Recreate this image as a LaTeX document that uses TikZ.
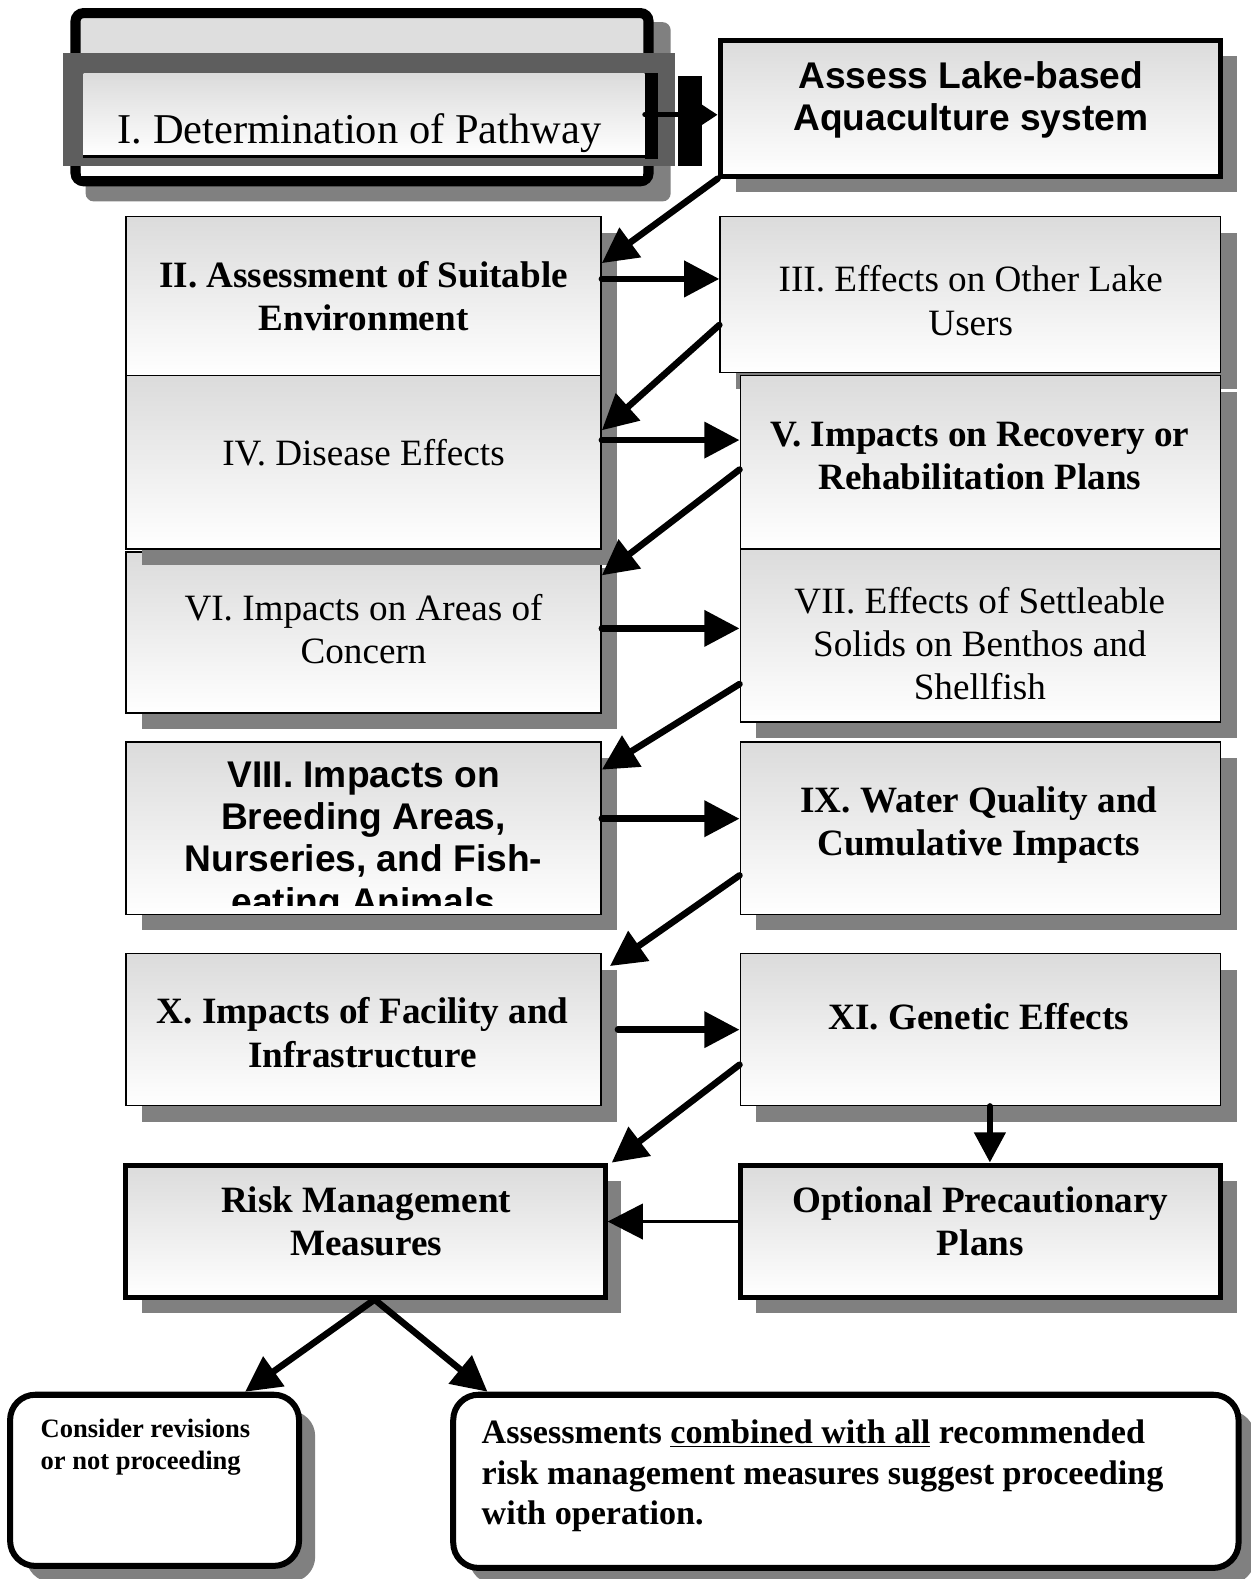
\documentclass[tikz,border=0pt]{standalone}
\usepackage{fontspec}
\setmainfont{Liberation Serif}
\setsansfont{Liberation Sans}
\usetikzlibrary{arrows.meta,shadows}

\begin{document}
\begin{tikzpicture}[x=0.02cm, y=-0.02cm, line cap=round,
  shade box/.style={draw=black, line width=0.8pt, top color=black!14, bottom color=white,
    drop shadow={shadow xshift=0.32cm, shadow yshift=-0.32cm, fill=black!50, opacity=1}},
  heavy box/.style={shade box, line width=2.8pt},
  end box/.style={draw=black, line width=3.4pt, rounded corners=0.5cm, fill=white,
    drop shadow={shadow xshift=0.32cm, shadow yshift=-0.32cm, fill=black!50, opacity=1}},
  left col/.style={minimum width=9.44cm},
  right col/.style={minimum width=9.54cm},
  txt/.style={inner sep=0pt, align=center, font=\fontsize{21}{24.5}\selectfont},
  txtb/.style={txt, font=\fontsize{21}{24.5}\selectfont\bfseries},
  txts/.style={txt, font=\fontsize{21}{24}\selectfont\sffamily\bfseries},
  flow/.style={->, line width=0.13cm},
  >={Triangle[length=0.7cm, width=0.7cm]}]
\useasboundingbox (0,0) rectangle (1242,1568);

% part I, framed twice
\fill[black!50, rounded corners=0.16cm] (85,22) rectangle (666,200);
\draw[line width=0.2cm, rounded corners=0.16cm, fill=black!13] (75,13) rectangle (644,180);
\fill[white] (80,158) rectangle (639,175);
\fill[black!63] (63,53) rectangle (670,165);
\node[top color=black!14, bottom color=white, minimum width=11.14cm, minimum height=1.64cm] (det) at (361.5,114) {};
\fill (det.north east) rectangle ([xshift=0.26cm, yshift=-0.06cm]det.south east);
\draw[line width=1.5pt, line cap=butt] (det.south west) -- (det.south east);
\fill (673,75) rectangle (697,165);
\node[txt, font=\fontsize{24}{28}\selectfont] (det-t) at (357,132) {I. Determination of Pathway};

\node[heavy box, minimum width=9.94cm, minimum height=2.7cm] (assess) at (963.5,107.5) {};
\node[txts] (assess-t) at (964,99) {Assess Lake-based\\Aquaculture system};

% left column
\node[shade box, left col, minimum height=3.16cm] (ii) at (361,294) {};
\node[shade box, left col, minimum height=3.2cm] (vi) at (361,628) {};
\node[shade box, left col, minimum height=3.44cm] (iv) at (361,459) {};
\node[shade box, left col, minimum height=3.42cm] (viii) at (361,822.5) {};
\node[shade box, left col, minimum height=3.02cm] (x) at (361,1022.5) {};
\node[heavy box, minimum width=9.52cm, minimum height=2.62cm] (risk) at (363,1222.5) {};

% right column
\node[shade box, minimum width=9.94cm, minimum height=3.1cm] (iii) at (963.5,292.5) {};
\node[shade box, right col, minimum height=3.44cm] (v) at (973.5,459) {};
\node[shade box, right col, minimum height=3.44cm] (vii) at (973.5,631) {};
\node[shade box, right col, minimum height=3.42cm] (ix) at (973.5,822.5) {};
\node[shade box, right col, minimum height=3.02cm] (xi) at (973.5,1022.5) {};
\node[heavy box, right col, minimum height=2.62cm] (opt) at (973.5,1222.5) {};

% outcomes
\node[end box, minimum width=5.74cm, minimum height=3.4cm] (cons) at (153.5,1470) {};
\node[end box, minimum width=15.6cm, minimum height=3.44cm] (comb) at (840,1471) {};

% texts
\node[txtb] (ii-t) at (361,294) {II. Assessment of Suitable\\Environment};
\node[txt] (iii-t) at (964,298.5) {III. Effects on Other Lake\\Users};
\node[txt] (iv-t) at (361,450) {IV. Disease Effects};
\node[txtb] (v-t) at (973,453) {V. Impacts on Recovery or\\Rehabilitation Plans};
\node[txt] (vi-t) at (361,624.5) {VI. Impacts on Areas of\\Concern};
\node[txt] (vii-t) at (973,639) {VII. Effects of Settleable\\Solids on Benthos and\\Shellfish};
\begin{scope}
  \clip (viii.north west) rectangle ([yshift=0.2cm]viii.south east);
  \node[txts] (viii-t) at (361,836) {VIII. Impacts on\\Breeding Areas,\\Nurseries, and Fish-\\eating Animals};
\end{scope}
\node[txtb] (ix-t) at (972,819.5) {IX. Water Quality and\\Cumulative Impacts};
\node[txtb] (x-t) at (360,1025.5) {X. Impacts of Facility and\\Infrastructure};
\node[txtb] (xi-t) at (972,1010) {XI. Genetic Effects};
\node[txtb] (risk-t) at (363.5,1212.5) {Risk Management\\Measures};
\node[txtb] (opt-t) at (973.5,1212.5) {Optional Precautionary\\Plans};
\node[inner sep=0pt, align=left, anchor=west, font=\fontsize{15}{18.2}\selectfont\bfseries] (cons-t) at (40,1437) {Consider revisions\\or not proceeding};
\node[inner sep=0pt, align=left, anchor=west, font=\fontsize{19.3}{22.8}\selectfont\bfseries] (comb-t) at (478,1465.5) {Assessments \underline{combined with all} recommended\\risk management measures suggest proceeding\\with operation.};

% arrows
\draw[->, line width=0.1cm, >={Triangle[length=0.42cm, width=0.52cm]}] (det.east) -- (det.east -| assess.west);
\draw[flow] (assess.south west) -- ([yshift=-0.94cm]ii.north east);
\draw[flow] ([yshift=0.34cm]ii.east) -- ([yshift=0.34cm]ii.east -| iii.west);
\draw[flow] ([yshift=0.96cm]iii.south west) -- ([yshift=-1.1cm]iv.north east);
\draw[flow] ([yshift=0.44cm]iv.east) -- ([yshift=0.44cm]iv.east -| v.west);
\draw[flow] ([yshift=-1.88cm]v.north west) -- ([yshift=-0.48cm]vi.north east);
\draw[flow] ([yshift=0.08cm]vi.east) -- ([yshift=0.08cm]vi.east -| vii.west);
\draw[flow] ([yshift=-2.7cm]vii.north west) -- ([yshift=-0.56cm]viii.north east);
\draw[flow] ([yshift=0.19cm]viii.east) -- ([yshift=0.19cm]viii.east -| ix.west);
\draw[flow] ([yshift=-2.66cm]ix.north west) -- ([xshift=0.16cm, yshift=-0.26cm]x.north east);
\draw[flow] ([xshift=0.32cm]x.east) -- (x.east -| xi.west);
\draw[flow] ([yshift=-2.22cm]xi.north west) -- ([xshift=0.08cm]risk.north east);
\draw[flow, >={Triangle[length=0.6cm, width=0.6cm]}] ([xshift=0.19cm]xi.south) -- ([xshift=0.19cm]xi.south |- opt.north);
\draw[flow, line width=0.07cm] ([yshift=0.19cm]opt.west) -- ([yshift=0.19cm]opt.west -| risk.east);
\draw[flow] ([xshift=0.18cm]risk.south) -- ([xshift=1.8cm]cons.north);
\draw[flow] ([xshift=0.18cm]risk.south) -- ([xshift=0.74cm]comb.north west);
\end{tikzpicture}
\end{document}
